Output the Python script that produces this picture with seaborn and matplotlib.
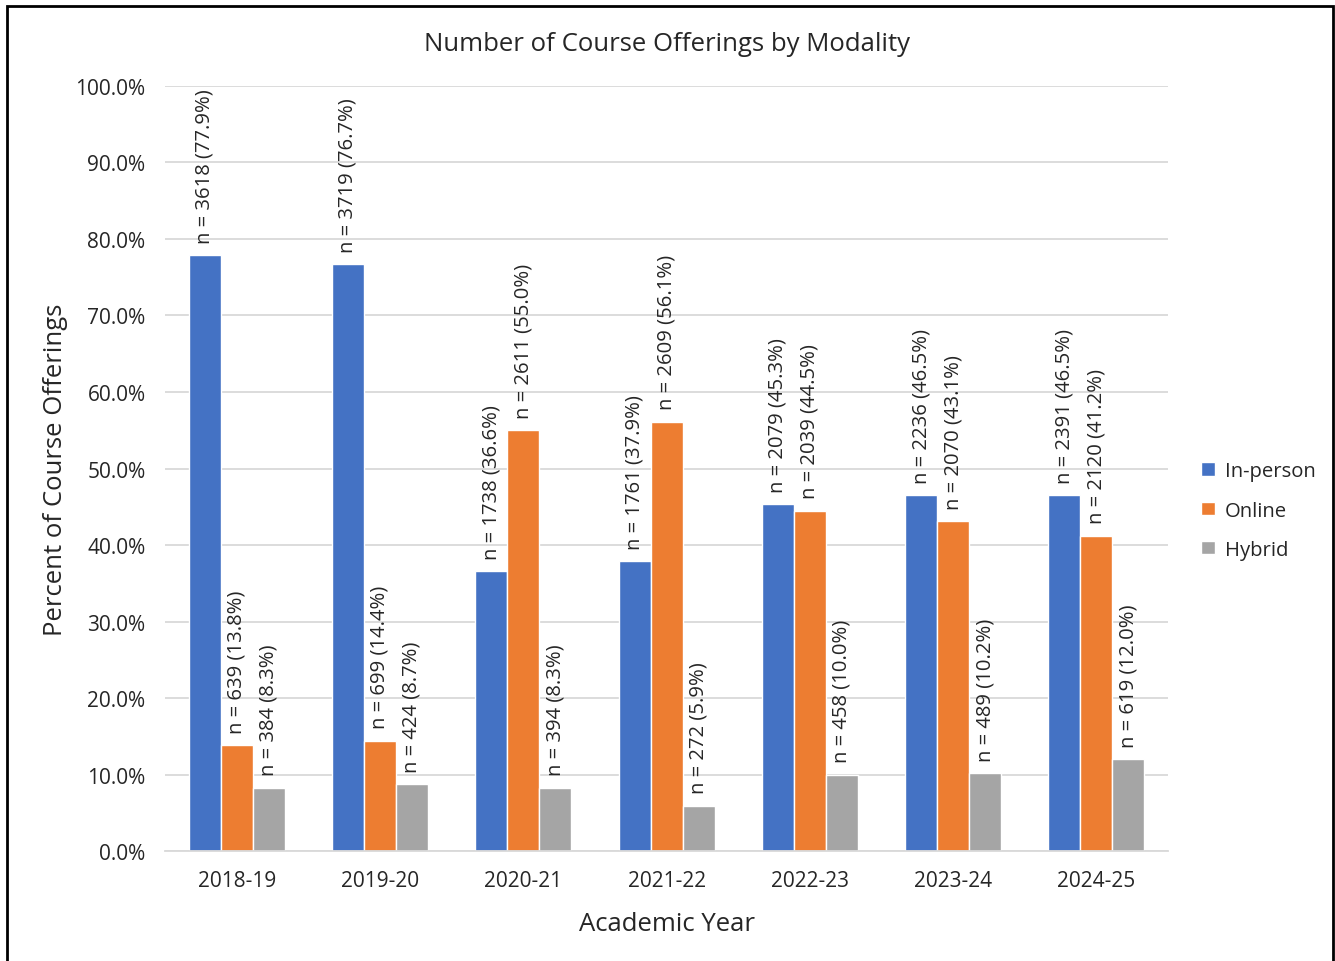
import pandas as pd
import matplotlib.pyplot as plt
import seaborn as sns
from matplotlib.ticker import PercentFormatter, MultipleLocator
from matplotlib.patches import Rectangle

years = ["2018-19", "2019-20", "2020-21", "2021-22", "2022-23", "2023-24", "2024-25"]
modes = ["In-person", "Online", "Hybrid"]

inperson_n = [3618, 3719, 1738, 1761, 2079, 2236, 2391]
inperson_pct = [77.9, 76.7, 36.6, 37.9, 45.3, 46.5, 46.5]
online_n = [639, 699, 2611, 2609, 2039, 2070, 2120]
online_pct = [13.8, 14.4, 55.0, 56.1, 44.5, 43.1, 41.2]
hybrid_n = [384, 424, 394, 272, 458, 489, 619]
hybrid_pct = [8.3, 8.7, 8.3, 5.9, 10.0, 10.2, 12.0]

colors = ["#4472C4", "#ED7D31", "#A5A5A5"]

# long table for seaborn
counts = [inperson_n, online_n, hybrid_n]
pcts = [inperson_pct, online_pct, hybrid_pct]
rows = []
for m, n_list, p_list in zip(modes, counts, pcts):
    for y, n, p in zip(years, n_list, p_list):
        rows.append({"Year": y, "Modality": m, "n": n, "pct": p})
df = pd.DataFrame(rows)

sns.set_style("white")
plt.rcParams["font.family"] = ["Open Sans", "DejaVu Sans"]

fig = plt.figure(figsize=(13.35, 9.62), dpi=100)
ax = fig.add_axes([0.1236, 0.1143, 0.7514, 0.7953])

sns.barplot(data=df, x="Year", y="pct", hue="Modality", hue_order=modes,
            palette=colors, saturation=1, width=0.67, gap=0, ax=ax)

# data labels above each bar
for cont, n_list, p_list in zip(ax.containers, counts, pcts):
    labels = [f"n = {n} ({p:.1f}%)" for n, p in zip(n_list, p_list)]
    ax.bar_label(cont, labels=labels, rotation=90, padding=9,
                 fontsize=14.6, color="#262626")

ax.set_ylim(0, 100)
ax.yaxis.set_major_locator(MultipleLocator(10))
ax.yaxis.set_major_formatter(PercentFormatter(decimals=1))
ax.yaxis.grid(True, color="#d9d9d9", linewidth=1.3)
ax.set_axisbelow(True)
for s in ["left", "top", "right"]:
    ax.spines[s].set_visible(False)
ax.spines["bottom"].set_color("#d9d9d9")
ax.spines["bottom"].set_linewidth(1.3)
ax.tick_params(axis="both", length=0, labelsize=15, colors="#262626")
ax.tick_params(axis="x", pad=14)
ax.tick_params(axis="y", pad=14)

ax.set_title("Number of Course Offerings by Modality", fontsize=18.5, color="#262626", pad=26)
ax.set_xlabel("Academic Year", fontsize=18.5, color="#262626", labelpad=14)
ax.set_ylabel("Percent of Course Offerings", fontsize=18.5, color="#262626", labelpad=5)

handles, _ = ax.get_legend_handles_labels()
ax.legend(handles, modes, loc="center left", bbox_to_anchor=(1.015, 0.445),
          frameon=False, fontsize=14.6, handlelength=0.65, handleheight=0.65,
          handletextpad=0.5, labelspacing=0.95, labelcolor="#262626")

# outer border
fig.add_artist(Rectangle((7 / 1335, -0.01), 1326 / 1335, 1 - 7 / 962 + 0.01,
                         transform=fig.transFigure, fill=False,
                         edgecolor="black", linewidth=2))

fig.savefig("out.png", dpi=100)
